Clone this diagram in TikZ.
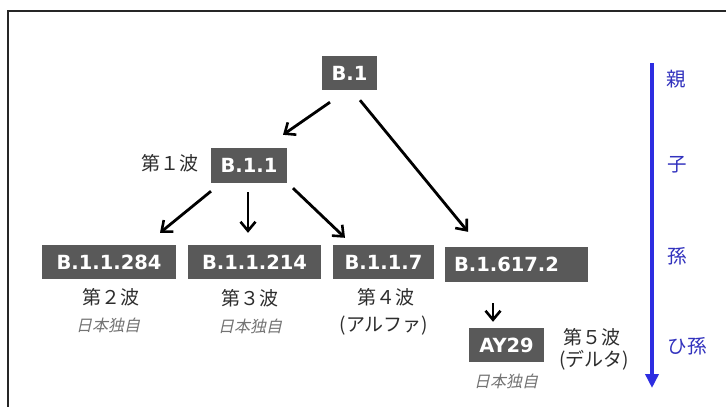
\documentclass[tikz,border=0pt]{standalone}
\usepackage{fontspec}
\usetikzlibrary{arrows.meta}
\newfontfamily\bxfont{DejaVu Sans}
\newfontfamily\jpfont{Noto Sans CJK JP}
\newfontfamily\jpitfont{Noto Sans CJK JP}[FakeSlant=0.22]
\definecolor{boxgray}{RGB}{89,89,89}
\definecolor{labgray}{RGB}{45,45,45}
\definecolor{itgray}{RGB}{115,115,115}
\definecolor{genblue}{RGB}{45,45,225}
\definecolor{genlab}{RGB}{50,50,190}
\tikzset{
  lineage/.style={fill=boxgray, text=white, font=\bxfont\bfseries\fontsize{19.5}{22}\selectfont,
    minimum height=34pt, inner xsep=0pt, inner ysep=0pt, anchor=center},
  wave/.style={text=labgray, font=\jpfont\fontsize{19}{22}\selectfont, inner sep=0pt},
  own/.style={text=itgray, font=\jpitfont\fontsize{16}{19}\selectfont, inner sep=0pt},
  gen/.style={text=genlab, font=\jpfont\fontsize{19.5}{22}\selectfont, inner sep=0pt},
  arr/.style={draw=black, line width=2.8pt, -{Straight Barb[length=9pt,width=15pt,line width=2.6pt]}},
  genarr/.style={draw=genblue, line width=3.8pt, -{Triangle[length=14pt,width=13pt]}},
}
\begin{document}
\begin{tikzpicture}[x=1pt,y=-1pt]
\useasboundingbox (0,0) rectangle (726,407);
\fill[white] (0,0) rectangle (726,407);
\draw[line width=2pt, black!85] (726,10.5) -- (8,10.5) -- (8,407);

% lineage boxes
\node[lineage, minimum width=55pt] (b1) at (349.5,73) {B.1};
\node[lineage, minimum width=76pt, minimum height=35pt] (b11) at (249,165.5) {B.1.1};
\node[lineage, minimum width=134pt] (b284) at (109,262) {B.1.1.284};
\node[lineage, minimum width=133pt] (b214) at (254.5,262) {B.1.1.214};
\node[lineage, minimum width=101pt] (b7) at (383.5,262) {B.1.1.7};
\node[lineage, minimum height=35pt, text width=125pt, inner xsep=9pt, align=left] (b617) at (516.5,264.5) {B.1.617.2};
\node[lineage, minimum width=75pt] (ay) at (506.5,345) {AY29};

% wave labels
\node[wave] (w1) at (170,163) {第１波};
\node[wave] (w2) at (111,297) {第２波};
\node[own]  (o2) at (108,325) {日本独自};
\node[wave] (w3) at (250,298) {第３波};
\node[own]  (o3) at (250,326) {日本独自};
\node[wave] (w4) at (386,297) {第４波};
\node[wave] (a4) at (384,326) {(アルファ)};
\node[wave] (w5) at (592,337) {第５波};
\node[wave] (a5) at (594,360) {(デルタ)};
\node[own]  (o5) at (506,381) {日本独自};

% connectors
\draw[arr] ([xshift=-19.5pt,yshift=-12pt]b1.south) -- ([xshift=34pt,yshift=13pt]b11.north);
\draw[arr] ([xshift=10.5pt,yshift=-10pt]b1.south) -- ([xshift=-48.5pt,yshift=15pt]b617.north);
\draw[arr] ([xshift=-38pt,yshift=-8pt]b11.south) -- ([xshift=51pt,yshift=12pt]b284.north);
\draw[arr] ([xshift=-1pt,yshift=-9pt]b11.south) -- ([xshift=-6.5pt,yshift=12pt]b214.north);
\draw[arr] ([xshift=44pt,yshift=-5pt]b11.south) -- ([xshift=-38.5pt,yshift=7pt]b7.north);
\draw[arr] ([xshift=-23.5pt,yshift=-21pt]b617.south) -- ([xshift=-13.5pt,yshift=6pt]ay.north);

% generation axis
\coordinate (gtop) at (652,63);
\coordinate (gbot) at (652,388);
\draw[genarr] (gtop) -- (gbot);
\node[gen] (g1) at (676,79) {親};
\node[gen] (g2) at (677,165) {子};
\node[gen] (g3) at (677,256) {孫};
\node[gen] (g4) at (687,346) {ひ孫};
\end{tikzpicture}
\end{document}
